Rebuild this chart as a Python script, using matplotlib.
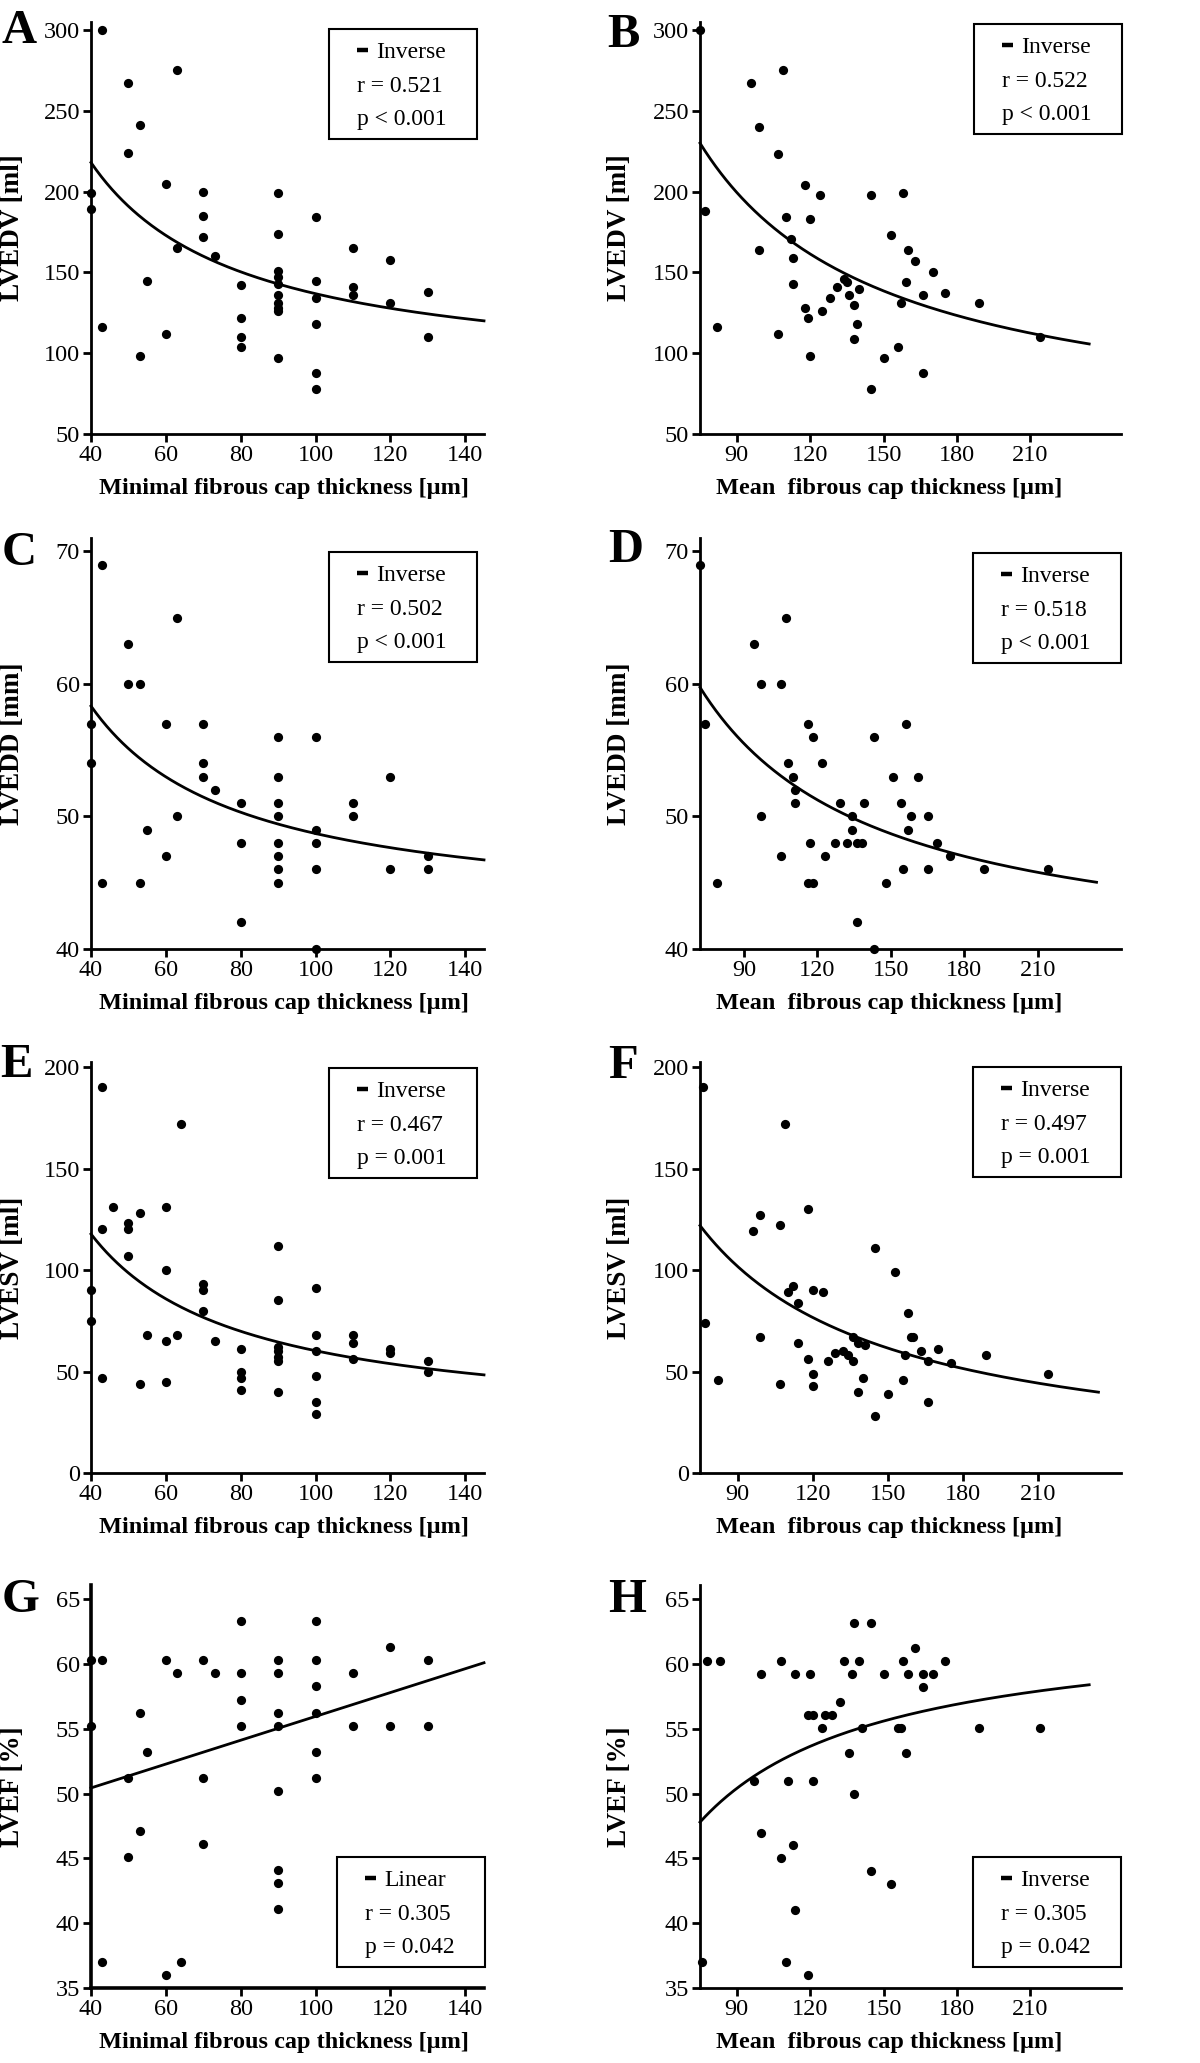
import numpy as np
import matplotlib
matplotlib.use("Agg")
import matplotlib.pyplot as plt
from matplotlib.lines import Line2D
from matplotlib.patches import Rectangle

# ---- data ----
# A: minimal cap thickness vs LVEDV
min_A = [43, 63, 50, 53, 50, 40, 40, 60, 70, 70, 70, 73, 63, 55, 43, 60, 53,
         80, 80, 80, 80, 90, 90, 90, 90, 90, 90, 90, 90, 90, 90,
         100, 100, 100, 100, 100, 100, 110, 110, 110, 120, 120, 130, 130]
lvedv_A = [300, 275, 267, 241, 224, 199, 189, 205, 200, 185, 172, 160, 165, 145, 116, 112, 98,
           142, 122, 110, 104, 199, 174, 151, 147, 143, 136, 131, 128, 126, 97,
           184, 145, 134, 118, 88, 78, 165, 141, 136, 158, 131, 138, 110]

# B: mean cap thickness vs LVEDV
mean_B = [75, 77, 82, 96, 99, 99, 107, 107, 109, 110, 112, 113, 113, 118, 120, 118, 119, 120,
          124, 125, 128, 131, 134, 135, 136, 138, 140, 139, 138, 145, 145, 150, 153, 156,
          157, 158, 159, 160, 163, 166, 166, 170, 175, 189, 214]
lvedv_B = [300, 188, 116, 267, 240, 164, 223, 112, 275, 184, 171, 159, 143, 204, 183, 128, 122, 98,
           198, 126, 134, 141, 146, 144, 136, 130, 140, 118, 109, 198, 78, 97, 173, 104,
           131, 199, 144, 164, 157, 136, 88, 150, 137, 131, 110]

# C: minimal cap thickness vs LVEDD
min_C = [43, 63, 50, 50, 53, 40, 40, 60, 70, 70, 70, 73, 80, 80, 80, 63, 55, 60, 43, 53,
         90, 90, 90, 90, 90, 90, 90, 90, 100, 100, 100, 100, 100, 110, 110, 120, 120, 130, 130]
lvedd_C = [69, 65, 63, 60, 60, 57, 54, 57, 57, 54, 53, 52, 51, 48, 42, 50, 49, 47, 45, 45,
           56, 53, 51, 50, 48, 47, 46, 45, 56, 49, 48, 46, 40, 51, 50, 53, 46, 47, 46]

# D: mean cap thickness vs LVEDD
mean_D = [72, 74, 79, 94, 97, 97, 105, 105, 107, 108, 110, 111, 111, 116, 118, 117, 116, 118,
          122, 123, 127, 129, 132, 134, 134, 136, 138, 139, 136, 143, 143, 148, 151, 154,
          155, 156, 157, 158, 161, 165, 165, 169, 174, 188, 214]
lvedd_D = [69, 57, 45, 63, 60, 50, 60, 47, 65, 54, 53, 52, 51, 57, 56, 48, 45, 45,
           54, 47, 48, 51, 48, 49, 50, 48, 48, 51, 42, 56, 40, 45, 53, 51,
           46, 57, 49, 50, 53, 50, 46, 48, 47, 46, 46]

# E: minimal cap thickness vs LVESV
min_E = [43, 64, 46, 43, 53, 50, 50, 50, 60, 60, 40, 40, 70, 70, 70, 55, 63, 60, 73, 43, 53, 60,
         80, 80, 80, 80, 90, 90, 90, 90, 90, 90, 90, 100, 100, 100, 100, 100, 100,
         110, 110, 110, 120, 120, 130, 130]
lvesv_E = [190, 172, 131, 120, 128, 123, 120, 107, 131, 100, 90, 75, 93, 90, 80, 68, 68, 65, 65, 47, 44, 45,
           61, 50, 47, 41, 112, 85, 62, 60, 57, 55, 40, 91, 68, 60, 48, 35, 29,
           68, 64, 56, 61, 59, 55, 50]

# F: mean cap thickness vs LVESV
mean_F = [76, 77, 82, 96, 99, 99, 107, 107, 109, 110, 112, 114, 114, 118, 120, 118, 120, 120,
          124, 126, 129, 132, 134, 136, 136, 138, 141, 140, 138, 145, 145, 150, 153, 156,
          157, 158, 159, 160, 163, 166, 166, 170, 175, 189, 214]
lvesv_F = [190, 74, 46, 119, 127, 67, 122, 44, 172, 89, 92, 84, 64, 130, 90, 56, 49, 43,
           89, 55, 59, 60, 58, 67, 55, 64, 63, 47, 40, 111, 28, 39, 99, 46,
           58, 79, 67, 67, 60, 55, 35, 61, 54, 58, 49]

# G: minimal cap thickness vs LVEF
min_G = [40, 43, 40, 43, 50, 50, 53, 53, 55, 60, 60, 63, 64, 70, 70, 70, 73,
         80, 80, 80, 80, 90, 90, 90, 90, 90, 90, 90, 90,
         100, 100, 100, 100, 100, 100, 110, 110, 120, 120, 130, 130]
lvef_G = [60.3, 60.3, 55.2, 37, 51.2, 45.1, 56.2, 47.1, 53.2, 60.3, 36, 59.3, 37, 60.3, 51.2, 46.1, 59.3,
          63.3, 59.3, 57.2, 55.2, 60.3, 59.3, 56.2, 55.2, 50.2, 44.1, 43.1, 41.1,
          63.3, 60.3, 58.3, 56.2, 53.2, 51.2, 59.3, 55.2, 61.3, 55.2, 60.3, 55.2]

# H: mean cap thickness vs LVEF
mean_H = [76, 78, 83, 97, 100, 100, 108, 108, 110, 111, 113, 114, 114, 119, 119, 120, 121, 121,
          125, 126, 129, 132, 134, 136, 137, 138, 138, 140, 141, 145, 145, 150, 153, 156,
          157, 158, 159, 160, 163, 166, 166, 170, 175, 189, 214]
lvef_H = [37, 60.2, 60.2, 51, 59.2, 47, 60.2, 45, 37, 51, 46, 59.2, 41, 36, 56.1, 59.2, 56.1, 51,
          55.1, 56.1, 56.1, 57.1, 60.2, 53.1, 59.2, 63.2, 50, 60.2, 55.1, 63.2, 44, 59.2, 43, 55.1,
          55.1, 60.2, 53.1, 59.2, 61.2, 59.2, 58.2, 59.2, 60.2, 55.1, 55.1]

# fitted models (b0, b1): inverse y = b0 + b1/x, linear y = b0 + b1*x
fit_A = (82.7, 5413)
fit_B = (47.1, 13720)
fit_C = (42.3, 641)
fit_D = (38.5, 1529)
fit_E = (21.9, 3834)
fit_F = (1.1, 9062)
fit_G = (46.76, 0.092)
fit_H = (63.4, -1170)

models = ["Inverse", "Inverse", "Inverse", "Inverse", "Inverse", "Inverse", "Linear", "Inverse"]
r_text = ["r = 0.521", "r = 0.522", "r = 0.502", "r = 0.518",
          "r = 0.467", "r = 0.497", "r = 0.305", "r = 0.305"]
p_text = ["p < 0.001", "p < 0.001", "p < 0.001", "p < 0.001",
          "p = 0.001", "p = 0.001", "p = 0.042", "p = 0.042"]
letters = ["A", "B", "C", "D", "E", "F", "G", "H"]
y_labels = ["LVEDV [ml]", "LVEDV [ml]", "LVEDD [mm]", "LVEDD [mm]",
            "LVESV [ml]", "LVESV [ml]", "LVEF [%]", "LVEF [%]"]
x_labels = ["Minimal fibrous cap thickness [µm]", "Mean  fibrous cap thickness [µm]"]

xs = [min_A, mean_B, min_C, mean_D, min_E, mean_F, min_G, mean_H]
ys = [lvedv_A, lvedv_B, lvedd_C, lvedd_D, lvesv_E, lvesv_F, lvef_G, lvef_H]
fits = [fit_A, fit_B, fit_C, fit_D, fit_E, fit_F, fit_G, fit_H]

# ---- layout (figure pixels) ----
W, H = 1200, 2063
plt.rcParams["font.family"] = ["Liberation Serif", "DejaVu Serif"]
fig = plt.figure(figsize=(W / 100, H / 100), dpi=100)

col_lr = [(91, 484), (700, 1121)]
row_tb = [(22, 434), (538, 949), (1062, 1473), (1585, 1988)]
xlims = [(40, 145), (75, 247), (40, 145), (72, 244), (40, 145), (75, 243), (40, 145), (75, 247)]
ylims = [(50, 305), (50, 305), (40, 71), (40, 71), (0, 202.5), (0, 202.5), (35, 66.1), (35, 66.1)]
yticks = [np.arange(50, 301, 50), np.arange(40, 71, 10), np.arange(0, 201, 50), np.arange(35, 66, 5)]
xticks = [np.arange(40, 141, 20), np.arange(90, 211, 30)]
curve_x = [(40, 145), (75, 234), (40, 145), (72, 234), (40, 145), (75, 234), (40, 145), (75, 234)]
boxes = [(329, 29), (974, 24), (329, 552), (973, 553), (329, 1068), (973, 1067), (337, 1857), (973, 1857)]
letter_pos = [(1, 43), (607, 47), (2, 565), (608, 562), (0, 1077), (608, 1078), (2, 1612), (608, 1612)]
ylabel_right = [25, 632]
xlabel_cx = [0.49, 0.45]

for i in range(8):
    col, row = i % 2, i // 2
    l, r = col_lr[col]
    t, b = row_tb[row]
    ax = fig.add_axes([l / W, 1 - b / H, (r - l) / W, (b - t) / H])

    ax.scatter(xs[i], ys[i], s=44, color="black", zorder=3, clip_on=False, linewidths=0)
    cx = np.linspace(curve_x[i][0], curve_x[i][1], 300)
    b0, b1 = fits[i]
    cy = b0 + b1 * cx if models[i] == "Linear" else b0 + b1 / cx
    ax.plot(cx, cy, color="black", lw=2.0, clip_on=False)

    ax.set_xlim(*xlims[i])
    ax.set_ylim(*ylims[i])
    ax.set_xticks(xticks[col])
    ax.set_yticks(yticks[row])
    for side in ["top", "right"]:
        ax.spines[side].set_visible(False)
    spine_w = 2.6 if i == 6 else 2.0
    for side in ["left", "bottom"]:
        ax.spines[side].set_linewidth(spine_w)
    ax.tick_params(direction="out", length=6, width=2.0, labelsize=17.5, pad=2)

    ax.set_ylabel(y_labels[i], fontsize=19.5, fontweight="bold")
    ax.yaxis.set_label_coords((ylabel_right[col] - l) / (r - l), 0.5)
    ax.set_xlabel(x_labels[col], fontsize=17.5, fontweight="bold")
    ax.xaxis.set_label_coords(xlabel_cx[col], -44 / (b - t))

    # stats box
    bl, bt = boxes[i]
    fig.add_artist(Rectangle((bl / W, 1 - (bt + 110) / H), 148 / W, 110 / H,
                             transform=fig.transFigure, fill=False, ec="black", lw=1.5))
    fig.add_artist(Line2D([(bl + 28) / W, (bl + 39) / W], [1 - (bt + 21) / H] * 2,
                          transform=fig.transFigure, color="black", lw=3.2,
                          solid_capstyle="butt"))
    fig.text((bl + 47) / W, 1 - (bt + 29) / H, models[i], fontsize=17, va="baseline", ha="left")
    fig.text((bl + 28) / W, 1 - (bt + 63) / H, r_text[i], fontsize=17, va="baseline", ha="left")
    fig.text((bl + 28) / W, 1 - (bt + 96) / H, p_text[i], fontsize=17, va="baseline", ha="left")

    lx, ly = letter_pos[i]
    fig.text(lx / W, 1 - ly / H, letters[i], fontsize=35, fontweight="bold",
             va="baseline", ha="left")

fig.savefig("out.png", dpi=100)
